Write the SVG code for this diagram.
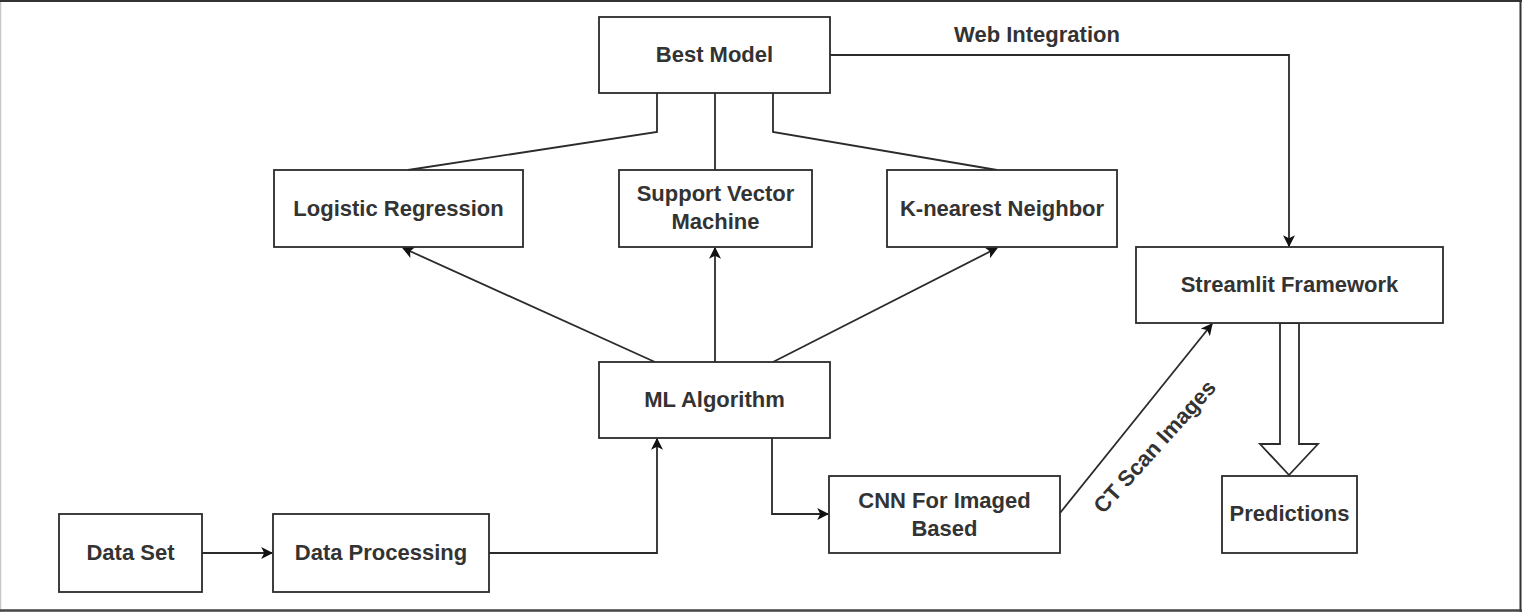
<svg xmlns="http://www.w3.org/2000/svg" width="1522" height="612" viewBox="0 0 1522 612">
<style>
.box{fill:#fff;stroke:#2b2b2b;stroke-width:1.8}
.t{font-family:"Liberation Sans",Arial,sans-serif;font-weight:bold;font-size:22px;fill:#333;text-anchor:middle}
.c{fill:none;stroke:#2b2b2b;stroke-width:1.8}
</style>
<defs>
<marker id="ah" viewBox="0 0 10 10" refX="9" refY="5" markerWidth="12" markerHeight="12" markerUnits="userSpaceOnUse" orient="auto">
<path d="M0,0 L10,5 L0,10 L2.5,5 Z" fill="#111"/>
</marker>
</defs>
<rect x="0" y="0" width="1522" height="612" fill="#fff"/>
<line x1="0.5" y1="0" x2="0.5" y2="612" stroke="#c8c8c8" stroke-width="1.5"/>
<line x1="0" y1="1" x2="1522" y2="1" stroke="#333" stroke-width="2"/>
<line x1="1520.5" y1="0" x2="1520.5" y2="612" stroke="#333" stroke-width="2"/>
<line x1="0" y1="610.5" x2="1522" y2="610.5" stroke="#444" stroke-width="2.5"/>

<g id="connectors">
<polyline class="c" points="657,93 657,132 408,170"/>
<line class="c" x1="715" y1="93" x2="715" y2="170"/>
<polyline class="c" points="773,93 773,132 997,170"/>
<polyline class="c" points="830,55 1289,55 1289,246" marker-end="url(#ah)"/>
<line class="c" x1="655" y1="362" x2="403" y2="248" marker-end="url(#ah)"/>
<line class="c" x1="715" y1="362" x2="715" y2="248" marker-end="url(#ah)"/>
<line class="c" x1="773" y1="362" x2="997" y2="248" marker-end="url(#ah)"/>
<line class="c" x1="202" y1="553" x2="272" y2="553" marker-end="url(#ah)"/>
<polyline class="c" points="489,553 657,553 657,439" marker-end="url(#ah)"/>
<polyline class="c" points="772,438 772,514 828,514" marker-end="url(#ah)"/>
<line class="c" x1="1060" y1="513" x2="1212" y2="324" marker-end="url(#ah)"/>
<polygon points="1280,323 1299,323 1299,444 1318,444 1289,475 1260,444 1280,444" fill="#fff" stroke="#2b2b2b" stroke-width="1.8"/>
<text class="t" x="1037" y="42">Web Integration</text>
<text class="t" transform="translate(1155,447) rotate(-48)" y="7">CT Scan Images</text>
</g>

<g id="best-model"><rect class="box" x="599" y="17" width="231" height="76"/><text class="t" x="714.5" y="62">Best Model</text></g>
<g id="logistic-regression"><rect class="box" x="274" y="170" width="249" height="77"/><text class="t" x="398.5" y="216">Logistic Regression</text></g>
<g id="svm"><rect class="box" x="619" y="170" width="193" height="77"/><text class="t" x="715.5" y="201">Support Vector</text><text class="t" x="715.5" y="229">Machine</text></g>
<g id="knn"><rect class="box" x="887" y="170" width="230" height="77"/><text class="t" x="1002" y="216">K-nearest Neighbor</text></g>
<g id="streamlit"><rect class="box" x="1136" y="247" width="307" height="76"/><text class="t" x="1289.5" y="292">Streamlit Framework</text></g>
<g id="ml-algorithm"><rect class="box" x="599" y="362" width="231" height="76"/><text class="t" x="714.5" y="407">ML Algorithm</text></g>
<g id="cnn"><rect class="box" x="829" y="476" width="231" height="77"/><text class="t" x="944.5" y="508">CNN For Imaged</text><text class="t" x="944.5" y="536">Based</text></g>
<g id="predictions"><rect class="box" x="1222" y="476" width="135" height="77"/><text class="t" x="1289.5" y="521">Predictions</text></g>
<g id="data-set"><rect class="box" x="59" y="514" width="143" height="78"/><text class="t" x="130.5" y="560">Data Set</text></g>
<g id="data-processing"><rect class="box" x="273" y="514" width="216" height="78"/><text class="t" x="381" y="560">Data Processing</text></g>
</svg>
